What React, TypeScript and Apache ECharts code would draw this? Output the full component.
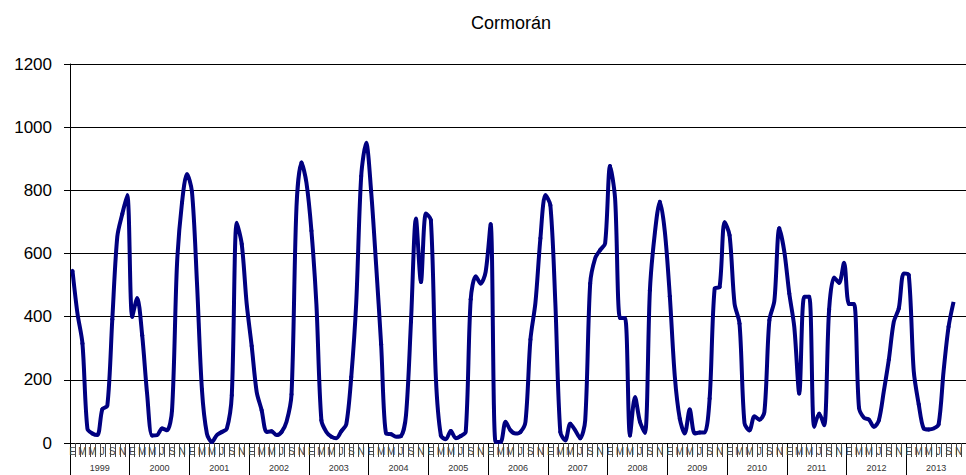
import React, { useEffect, useRef } from "react";
import * as echarts from "echarts";

const years = ["1999", "2000", "2001", "2002", "2003", "2004", "2005", "2006", "2007", "2008", "2009", "2010", "2011", "2012", "2013"];
const monthLetters = ["E", "F", "M", "A", "M", "J", "J", "A", "S", "O", "N", "D"];

const v1999 = [545, 410, 315, 45, 30, 25, 107, 118, 392, 653, 725, 785];
const v2000 = [400, 459, 341, 154, 24, 25, 46, 40, 104, 567, 761, 852];
const v2001 = [796, 510, 170, 30, 3, 25, 35, 45, 151, 697, 630, 440];
const v2002 = [307, 162, 104, 35, 37, 25, 35, 67, 154, 748, 888, 824];
const v2003 = [672, 440, 72, 35, 20, 15, 37, 59, 209, 444, 845, 951];
const v2004 = [796, 563, 313, 30, 28, 20, 22, 88, 384, 711, 510, 727];
const v2005 = [706, 207, 24, 12, 38, 15, 22, 35, 455, 528, 505, 542];
const v2006 = [693, 3, 3, 67, 40, 30, 35, 67, 328, 444, 648, 785];
const v2007 = [753, 444, 35, 8, 61, 40, 15, 72, 505, 585, 611, 632];
const v2008 = [877, 775, 396, 396, 24, 146, 67, 32, 484, 666, 764, 669];
const v2009 = [465, 211, 77, 30, 106, 30, 33, 33, 141, 489, 494, 700];
const v2010 = [658, 442, 378, 63, 40, 85, 74, 98, 389, 450, 680, 606];
const v2011 = [473, 368, 157, 463, 463, 51, 93, 56, 423, 524, 507, 571];
const v2012 = [440, 440, 112, 80, 74, 51, 72, 165, 264, 384, 426, 537];
const v2013 = [532, 228, 123, 46, 43, 46, 59, 228, 368, 447];

const values: number[] = [
  ...v1999, ...v2000, ...v2001, ...v2002, ...v2003, ...v2004, ...v2005, ...v2006,
  ...v2007, ...v2008, ...v2009, ...v2010, ...v2011, ...v2012, ...v2013,
];

const monthCats: string[] = [];
years.forEach((y) => {
  for (let m = 0; m < 12; m++) monthCats.push(y + "-" + m);
});

export default function App() {
  const ref = useRef<HTMLDivElement>(null);
  useEffect(() => {
    if (!ref.current) return;
    const chart = echarts.init(ref.current, null, { renderer: "svg" });
    const font = "'Liberation Sans', Arial, sans-serif";
    chart.setOption({
      animation: false,
      backgroundColor: "#ffffff",
      title: {
        text: "Cormorán",
        left: 466,
        top: 9,
        textStyle: { fontFamily: font, fontSize: 18, fontWeight: "normal", color: "#000" },
      },
      grid: { left: 70, right: -7, top: 64, bottom: 32, containLabel: false },
      xAxis: [
        {
          type: "category",
          data: monthCats,
          boundaryGap: true,
          position: "bottom",
          axisLine: { show: true, lineStyle: { color: "#000", width: 1 } },
          axisTick: { show: true, interval: 0, length: 14, lineStyle: { color: "#444", width: 1 } },
          axisLabel: {
            interval: 1,
            margin: 3,
            fontSize: 10,
            fontFamily: font,
            color: "#444",
            formatter: (val: string) => monthLetters[parseInt(val.split("-")[1], 10)],
          },
          splitLine: { show: false },
        },
        {
          type: "category",
          data: years,
          boundaryGap: true,
          position: "bottom",
          axisLine: { show: false },
          axisTick: { show: true, interval: 0, length: 32, lineStyle: { color: "#000", width: 1 } },
          axisLabel: { interval: 0, margin: 20, fontSize: 9, fontFamily: font, color: "#333" },
          splitLine: { show: false },
        },
      ],
      yAxis: {
        type: "value",
        min: 0,
        max: 1200,
        interval: 200,
        axisLine: { show: true, lineStyle: { color: "#000", width: 1 } },
        axisTick: { show: true, length: 6, lineStyle: { color: "#000" } },
        axisLabel: {
          margin: 18,
          fontSize: 17,
          fontFamily: font,
          color: "#000",
          formatter: (v: number) => String(v),
        },
        splitLine: { show: true, lineStyle: { color: "#000", width: 1 } },
      },
      series: [
        {
          type: "line",
          xAxisIndex: 0,
          data: values,
          smooth: 0.3,
          symbol: "circle",
          symbolSize: 4,
          showSymbol: true,
          itemStyle: { color: "#000080" },
          lineStyle: { color: "#000080", width: 4 },
        },
      ],
    });
    return () => chart.dispose();
  }, []);
  return (
    <div
      ref={ref}
      style={{ position: "absolute", left: 0, top: 0, width: 966, height: 475 }}
    />
  );
}
